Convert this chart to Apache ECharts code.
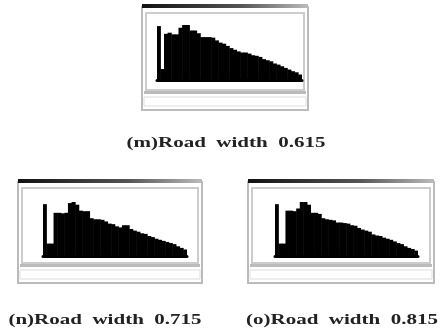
<!DOCTYPE html>
<html>
<head>
<meta charset="utf-8">
<script src="https://cdn.jsdelivr.net/npm/echarts@6/dist/echarts.min.js"></script>
<style>
  html, body { margin: 0; padding: 0; background: #fff; }
  #chart { width: 443px; height: 332px; }
</style>
</head>
<body>
<div id="chart"></div>
<script>
// relative bin heights
const bins = Array.from({ length: 40 }, (_, i) => String(i + 1));
const widthM = [0.98, 0.2, 0.84, 0.86, 0.83, 0.83, 0.95, 1.0, 1.0, 0.9,
  0.9, 0.85, 0.78, 0.78, 0.78, 0.77, 0.72, 0.68, 0.66, 0.62,
  0.58, 0.55, 0.52, 0.5, 0.5, 0.48, 0.45, 0.44, 0.42, 0.38,
  0.36, 0.34, 0.3, 0.28, 0.25, 0.22, 0.19, 0.16, 0.14, 0.1];
const widthN = [0.96, 0.23, 0.23, 0.8, 0.8, 0.79, 0.8, 0.98, 1.0, 0.95,
  0.84, 0.83, 0.83, 0.7, 0.68, 0.68, 0.67, 0.64, 0.6, 0.59,
  0.55, 0.53, 0.57, 0.57, 0.5, 0.47, 0.45, 0.42, 0.41, 0.37,
  0.35, 0.32, 0.3, 0.28, 0.26, 0.24, 0.22, 0.18, 0.15, 0.12];
const widthO = [0.96, 0.23, 0.23, 0.84, 0.84, 0.83, 0.88, 1.0, 1.0, 0.95,
  0.8, 0.8, 0.78, 0.7, 0.68, 0.67, 0.66, 0.62, 0.62, 0.61,
  0.6, 0.57, 0.56, 0.52, 0.49, 0.47, 0.45, 0.4, 0.38, 0.37,
  0.34, 0.32, 0.3, 0.27, 0.24, 0.22, 0.18, 0.15, 0.13, 0.1];
const captions = ['(m)Road  width  0.615', '(n)Road  width  0.715', '(o)Road  width  0.815'];

const panels = [
  { data: widthM, grid: { left: 157, top: 25, width: 145, height: 55 }, frame: [142, 4, 166, 106], cap: [226, 143] },
  { data: widthN, grid: { left: 43, top: 202, width: 144, height: 54 }, frame: [18, 179, 184, 104], cap: [105, 320] },
  { data: widthO, grid: { left: 275, top: 202, width: 143, height: 54 }, frame: [248, 179, 186, 104], cap: [342, 320] },
];

const chart = echarts.init(document.getElementById('chart'));

// window-like frames around each screenshot, plus the stretched captions
const graphic = [];
panels.forEach((p, i) => {
  const [x, y, w, h] = p.frame;
  graphic.push(
    { type: 'rect', shape: { x: x, y: y + 3, width: w, height: h - 3 },
      style: { fill: '#fff', stroke: '#bbb', lineWidth: 2 }, z: -10 },
    { type: 'rect', shape: { x: x, y: y, width: w, height: 4 },
      style: { fill: new echarts.graphic.LinearGradient(0, 0, 1, 0, [
        { offset: 0, color: '#111' }, { offset: 0.6, color: '#555' }, { offset: 1, color: '#bbb' }]) }, z: -9 },
    { type: 'rect', shape: { x: x + 4, y: y + 9, width: w - 8, height: h - 29 },
      style: { fill: 'none', stroke: '#ccc', lineWidth: 2 }, z: -9 },
    { type: 'rect', shape: { x: x + 2, y: y + h - 19, width: w - 4, height: 3 },
      style: { fill: '#bbb' }, z: -9 },
    { type: 'rect', shape: { x: x + 2, y: y + h - 13, width: w - 4, height: 9 },
      style: { fill: 'none', stroke: '#ddd', lineWidth: 1 }, z: -9 },
    { type: 'text', x: p.cap[0], y: p.cap[1], scaleX: 1.5,
      style: { text: captions[i], fontFamily: 'Liberation Serif', fontSize: 14,
        fontWeight: 'bold', fill: '#222', align: 'center', verticalAlign: 'middle' } }
  );
});

chart.setOption({
  animation: false,
  backgroundColor: '#fff',
  graphic: graphic,
  grid: panels.map(p => p.grid),
  xAxis: panels.map((p, i) => ({
    type: 'category', gridIndex: i, data: bins,
    axisLine: { lineStyle: { color: '#000', width: 3 } },
    axisTick: { show: false }, axisLabel: { show: false }
  })),
  yAxis: panels.map((p, i) => ({
    type: 'value', gridIndex: i, min: 0, max: 1,
    axisLine: { show: false }, axisTick: { show: false },
    axisLabel: { show: false }, splitLine: { show: false }
  })),
  series: panels.map((p, i) => ({
    type: 'bar', xAxisIndex: i, yAxisIndex: i, data: p.data,
    barWidth: '115%', itemStyle: { color: '#000' }
  })),
});
</script>
</body>
</html>
